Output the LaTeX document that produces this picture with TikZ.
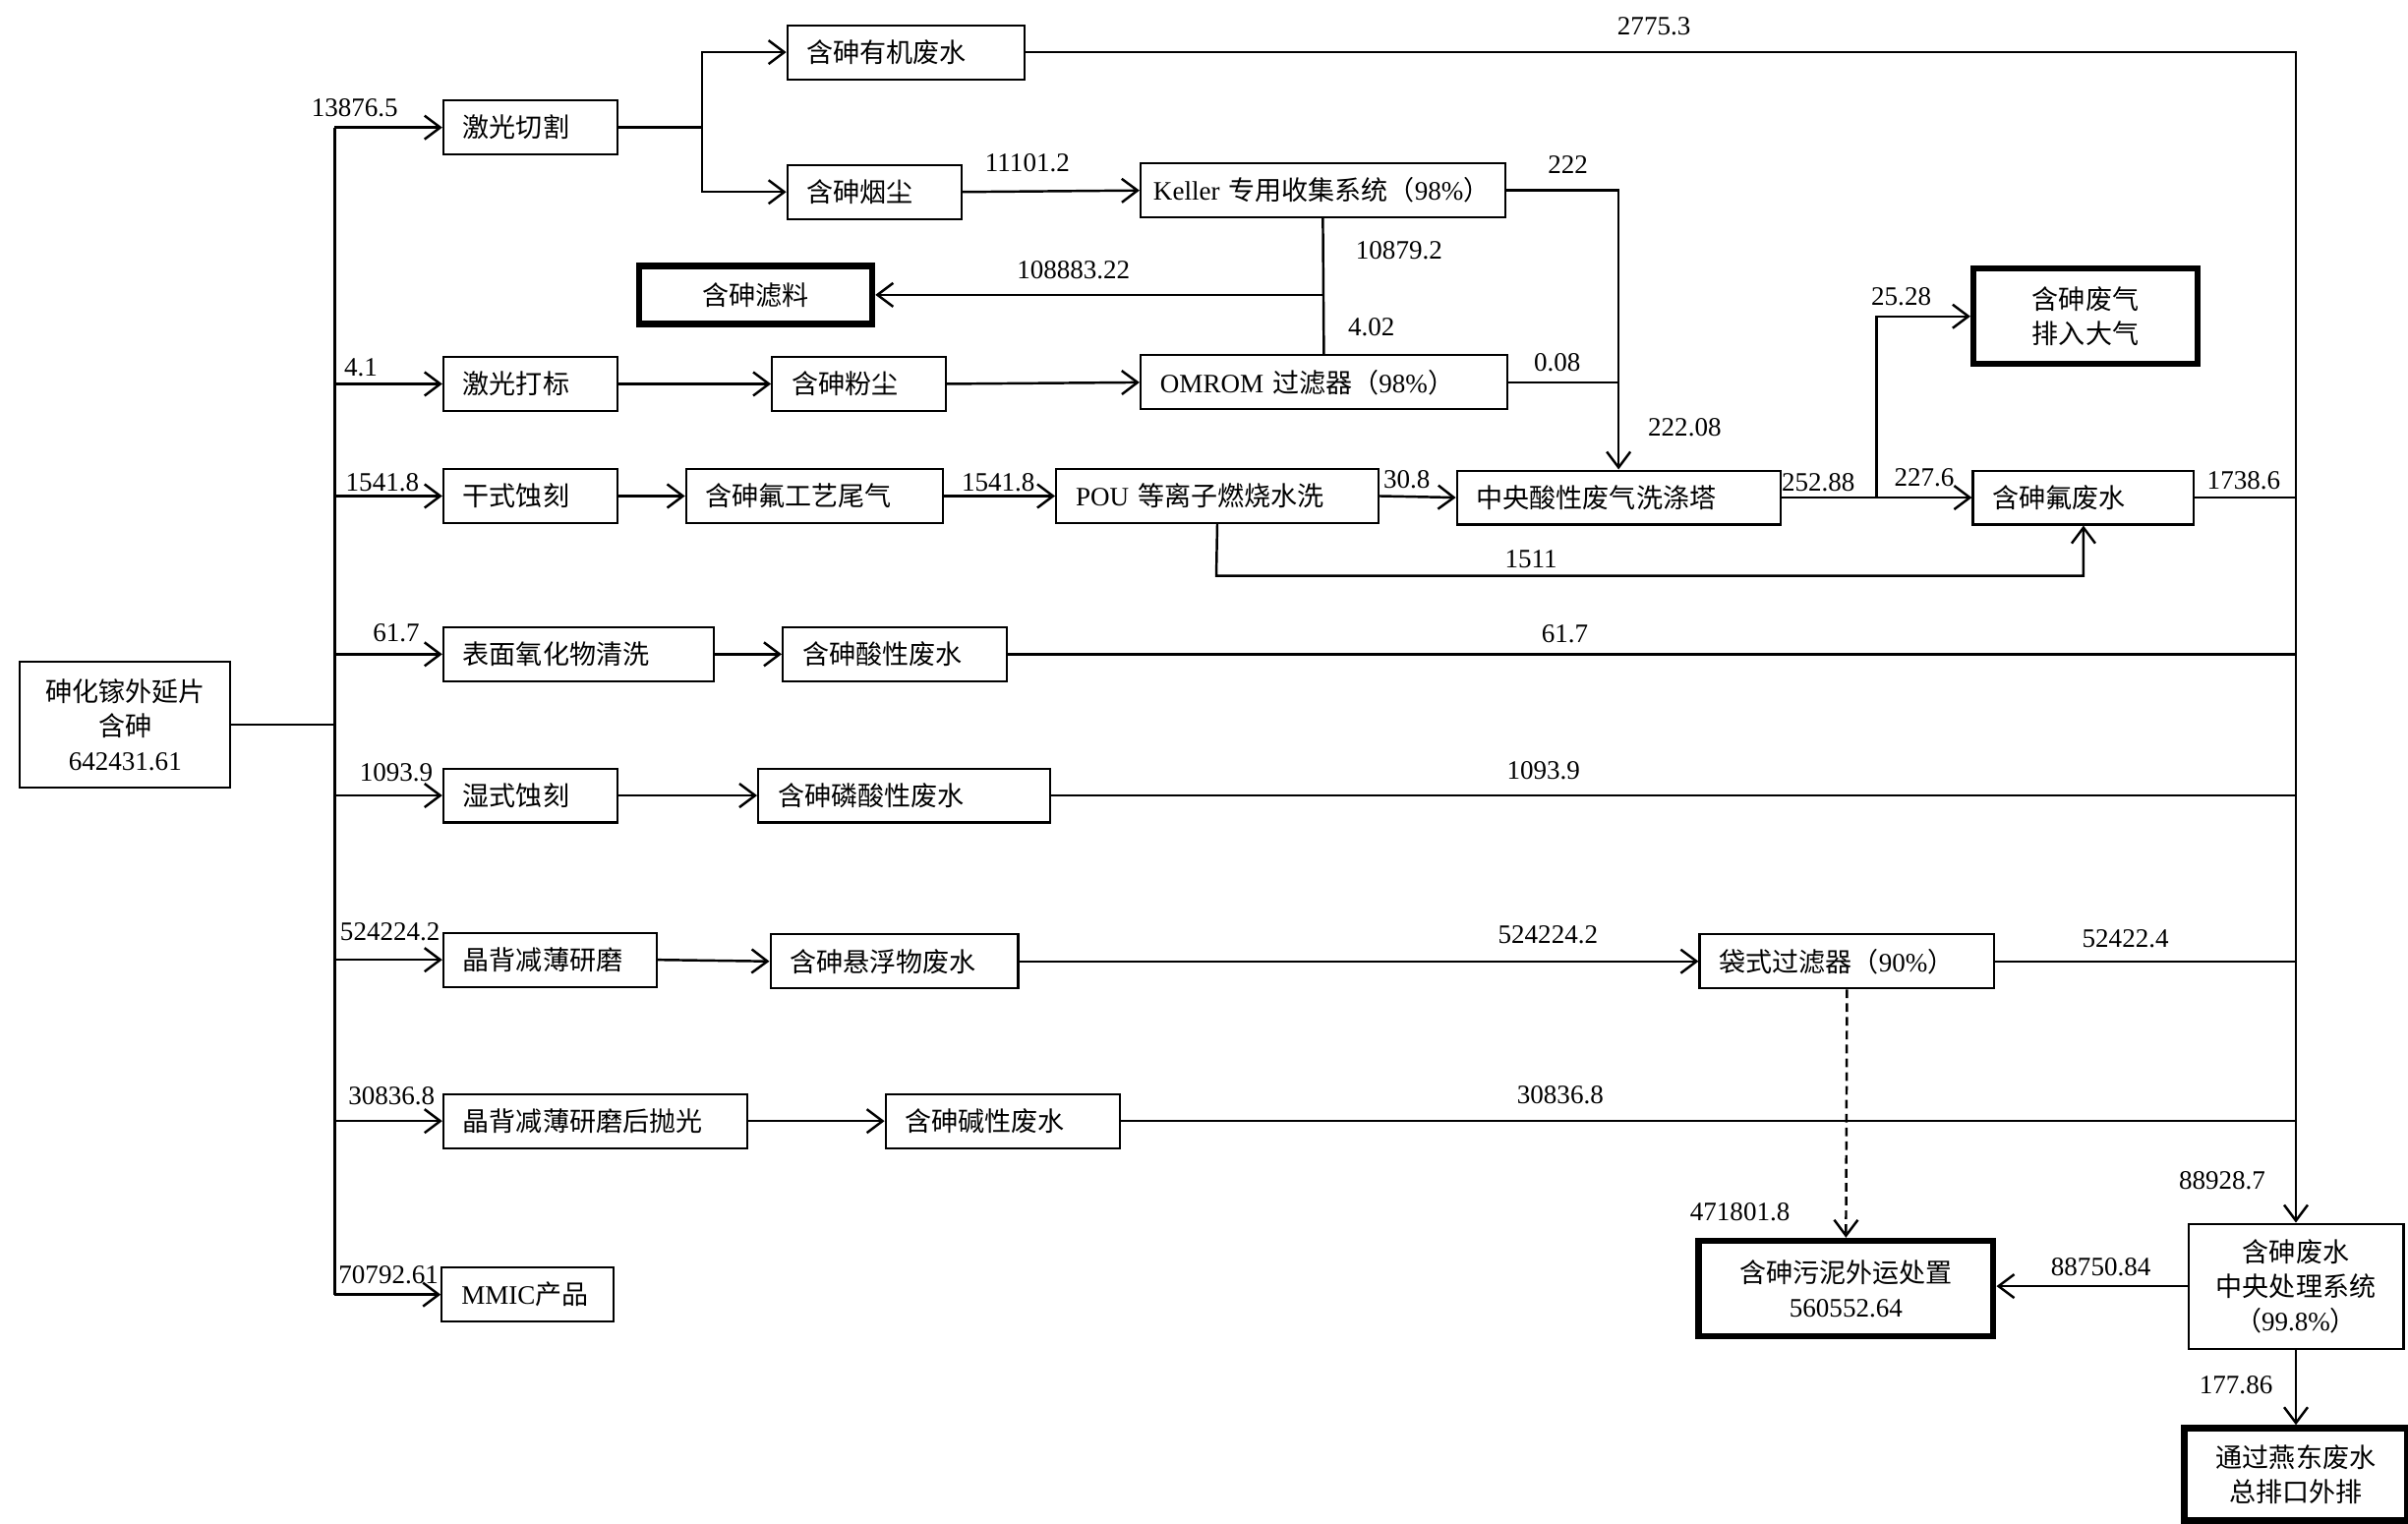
\documentclass[tikz,border=0pt]{standalone}
\usepackage{fontspec}
\setmainfont{Liberation Serif}
\newfontfamily\cjk{Noto Sans CJK SC}
\newcommand{\zh}[1]{{\cjk #1}}
\usetikzlibrary{arrows.meta,positioning}

\begin{document}
\begin{tikzpicture}[x=0.15625mm, y=-0.15625mm,
    font=\fontsize{7.7}{10}\selectfont,
    box/.style={draw, line width=0.6pt, anchor=west, minimum height=0.55cm,
        inner xsep=0.2cm, inner ysep=0pt, align=left, text width=#1},
    endbox/.style={draw, line width=1.8pt, minimum width=#1, align=center, inner sep=0pt},
    line/.style={line width=0.7pt},
    flow/.style={line width=0.7pt, -{Straight Barb[length=1.6mm,width=2.4mm]}},
    num/.style={inner sep=0pt}]
    \useasboundingbox (0,0) rectangle (1568,992);

    % source wafer
    \node[draw, line width=0.6pt, minimum width=2.14cm, minimum height=1.28cm,
        align=center, inner sep=0pt] (wafer) at (81.5,472)
        {\zh{砷化镓外延片}\\\zh{含砷}\\642431.61};

    % process steps
    \node[box=1.37cm] (cut) at (288,83) {\zh{激光切割}};
    \node[box=1.37cm] (mark) at (288,250) {\zh{激光打标}};
    \node[box=1.37cm] (dry) at (288,323) {\zh{干式蚀刻}};
    \node[box=2.35cm] (clean) at (288,426) {\zh{表面氧化物清洗}};
    \node[box=1.37cm] (wet) at (288,518) {\zh{湿式蚀刻}};
    \node[box=1.77cm] (grind) at (288,625) {\zh{晶背减薄研磨}};
    \node[box=2.69cm] (polish) at (288,730) {\zh{晶背减薄研磨后抛光}};
    \node[box=1.35cm] (mmic) at (287,843) {MMIC\zh{产品}};

    % waste streams
    \node[box=2.01cm] (organic) at (512,34) {\zh{含砷有机废水}};
    \node[box=1.37cm] (fume) at (512,125) {\zh{含砷烟尘}};
    \node[box=3.45cm, inner xsep=0.13cm] (keller) at (742,124) {Keller \zh{专用收集系统（}98\%\zh{）}};
    \node[endbox=2.375cm, minimum height=0.59cm] (media) at (492,192) {\zh{含砷滤料}};
    \node[box=1.37cm] (dust) at (502,250) {\zh{含砷粉尘}};
    \node[box=3.33cm] (omrom) at (742,249) {OMROM \zh{过滤器（}98\%\zh{）}};
    \node[box=2.21cm] (tailgas) at (446,323) {\zh{含砷氟工艺尾气}};
    \node[box=2.88cm] (pou) at (687,323) {POU \zh{等离子燃烧水洗}};
    \node[box=2.89cm] (tower) at (948,324) {\zh{中央酸性废气洗涤塔}};
    \node[endbox=2.28cm, minimum height=0.97cm] (air) at (1358,206) {\zh{含砷废气}\\\zh{排入大气}};
    \node[box=1.85cm] (fluo) at (1284,324) {\zh{含砷氟废水}};
    \node[box=1.88cm] (acid) at (509,426) {\zh{含砷酸性废水}};
    \node[box=2.57cm] (phos) at (493,518) {\zh{含砷磷酸性废水}};
    \node[box=2.12cm] (susp) at (501,626) {\zh{含砷悬浮物废水}};
    \node[box=2.60cm] (bag) at (1106,626) {\zh{袋式过滤器（}90\%\zh{）}};
    \node[box=1.98cm] (alkali) at (576,730) {\zh{含砷碱性废水}};

    % end points
    \node[endbox=3.0cm, minimum height=0.97cm] (sludge) at (1202,839) {\zh{含砷污泥外运处置}\\560552.64};
    \node[draw, line width=0.6pt, minimum width=2.19cm, minimum height=1.27cm,
        align=center, inner sep=0pt] (central) at (1495,837.5)
        {\zh{含砷废水}\\\zh{中央处理系统}\\\zh{（}99.8\%\zh{）}};
    \node[endbox=2.27cm, minimum height=0.94cm] (outlet) at (1495,960) {\zh{通过燕东废水}\\\zh{总排口外排}};

    % junctions
    \coordinate (trunk) at (218,472);
    \coordinate (split) at (457,83);
    \coordinate (gasjoin) at (1222,324);
    \coordinate (bypass) at (792,375);

    % main trunk
    \draw[line] (wafer.east) -- (trunk);
    \draw[line] (trunk |- cut.west) -- (trunk |- mmic.west);
    \draw[flow] (trunk |- cut.west) -- (cut.west);
    \draw[flow] (trunk |- mark.west) -- (mark.west);
    \draw[flow] (trunk |- dry.west) -- (dry.west);
    \draw[flow] (trunk |- clean.west) -- (clean.west);
    \draw[flow] (trunk |- wet.west) -- (wet.west);
    \draw[flow] (trunk |- grind.west) -- (grind.west);
    \draw[flow] (trunk |- polish.west) -- (polish.west);
    \draw[flow] (trunk |- mmic.west) -- (mmic.west);

    % laser cutting
    \draw[line] (cut.east) -- (split);
    \draw[flow] (split) |- (organic.west);
    \draw[flow] (split) |- (fume.west);
    \draw[flow] (organic.east) -| (central.north);
    \draw[flow] (fume.east) -- (keller.west);
    \draw[flow] (keller.east) -| (tower.north);
    \draw[line] (keller.south) -- (omrom.north);
    \draw[flow] (keller.south |- media.east) -- (media.east);

    % laser marking
    \draw[flow] (mark.east) -- (dust.west);
    \draw[flow] (dust.east) -- (omrom.west);
    \draw[line] (omrom.east) -- (omrom.east -| tower.north);

    % dry etching
    \draw[flow] (dry.east) -- (tailgas.west);
    \draw[flow] (tailgas.east) -- (pou.west);
    \draw[flow] (pou.east) -- (tower.west);
    \draw[line] (tower.east) -- (gasjoin);
    \draw[flow] (gasjoin) -- (fluo.west);
    \draw[flow] (gasjoin) |- (air.west);
    \draw[flow] (pou.south) -- (bypass) -| (fluo.south);
    \draw[line] (fluo.east) -- (fluo.east -| central.north);

    % wet lines
    \draw[flow] (clean.east) -- (acid.west);
    \draw[line] (acid.east) -- (acid.east -| central.north);
    \draw[flow] (wet.east) -- (phos.west);
    \draw[line] (phos.east) -- (phos.east -| central.north);
    \draw[flow] (grind.east) -- (susp.west);
    \draw[flow] (susp.east) -- (bag.west);
    \draw[line] (bag.east) -- (bag.east -| central.north);
    \draw[flow, dash pattern=on 2.5pt off 1.5pt] (bag.south) -- (sludge.north);
    \draw[flow] (polish.east) -- (alkali.west);
    \draw[line] (alkali.east) -- (alkali.east -| central.north);

    % treatment
    \draw[flow] (central.west) -- (central.west -| sludge.east);
    \draw[flow] (central.south) -- (outlet.north);

    % amounts
    \node[num] (qcut) at (231,70) {13876.5};
    \node[num] (qmark) at (235,239) {4.1};
    \node[num] (qdry) at (249,314) {1541.8};
    \node[num] (qclean) at (258,412) {61.7};
    \node[num] (qwet) at (258,503) {1093.9};
    \node[num] (qgrind) at (254,607) {524224.2};
    \node[num] (qpolish) at (255,714) {30836.8};
    \node[num] (qmmic) at (253,830) {70792.61};
    \node[num] (qorganic) at (1077,17) {2775.3};
    \node[num] (qfume) at (669,106) {11101.2};
    \node[num] (qkeller) at (1021,107) {222};
    \node[num] (qcatch) at (911,163) {10879.2};
    \node[num] (qmedia) at (699,176) {108883.22};
    \node[num] (qdust) at (893,213) {4.02};
    \node[num] (qomrom) at (1014,236) {0.08};
    \node[num] (qtower) at (1097,278) {222.08};
    \node[num] (qtail) at (650,314) {1541.8};
    \node[num] (qpou) at (916,312) {30.8};
    \node[num] (qscrub) at (1184,314) {252.88};
    \node[num] (qair) at (1238,193) {25.28};
    \node[num] (qfluo) at (1253,311) {227.6};
    \node[num] (qfluout) at (1461,313) {1738.6};
    \node[num] (qbypass) at (997,364) {1511};
    \node[num] (qacid) at (1019,413) {61.7};
    \node[num] (qphos) at (1005,502) {1093.9};
    \node[num] (qsusp) at (1008,609) {524224.2};
    \node[num] (qbag) at (1384,611) {52422.4};
    \node[num] (qalkali) at (1016,713) {30836.8};
    \node[num] (qcake) at (1133,789) {471801.8};
    \node[num] (qcentral) at (1447,769) {88928.7};
    \node[num] (qsludge) at (1368,825) {88750.84};
    \node[num] (qoutlet) at (1456,902) {177.86};
\end{tikzpicture}
\end{document}
